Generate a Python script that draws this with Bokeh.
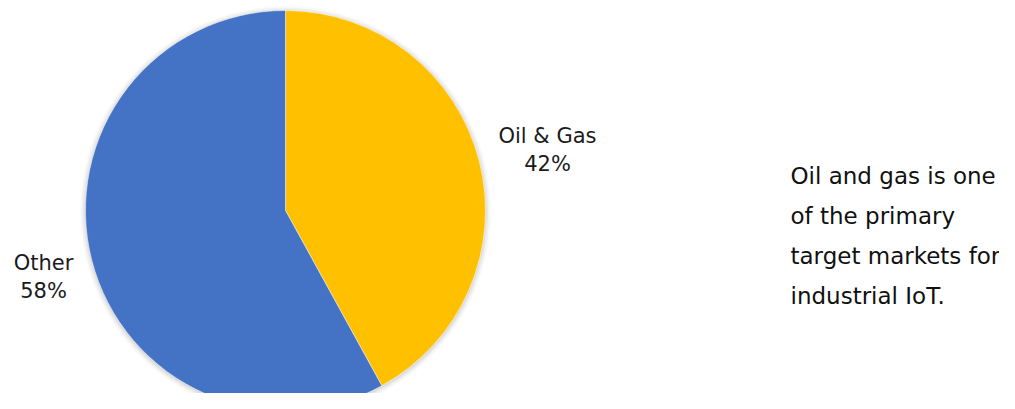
import math
from bokeh.plotting import figure
from bokeh.models import Range1d, ColumnDataSource
from bokeh.core.properties import value
from bokeh.embed import file_html
from bokeh.resources import INLINE

# ---- data ----
categories = ["Oil & Gas", "Other"]
values = [42, 58]
colors = ["#FFC000", "#4472C4"]
note_lines = ["Oil and gas is one", "of the primary", "target markets for", "industrial IoT."]

# ---- layout (screen px from top-left) ----
W, H = 999, 393
CX, CY = 285, H - 210
R = 200
FONT = "DejaVu Sans"
label_pos = [(547, 135), (43, 262)]   # label anchors (layout)
LINE = 28

p = figure(width=W, height=H, output_backend="svg", toolbar_location=None,
           x_range=Range1d(0, W), y_range=Range1d(0, H), min_border=0)
p.axis.visible = False
p.grid.visible = False
p.outline_line_color = None
p.background_fill_color = "white"

# soft shadow
for i, a in enumerate([0.05, 0.04, 0.03, 0.02]):
    p.circle(x=[CX], y=[CY - 1], radius=R + 1 + i * 1.5, fill_color="#000000",
             fill_alpha=a, line_color=None)

total = sum(values)
starts, ends, pct = [], [], []
ang = math.pi / 2
for v in values:
    sweep = 2 * math.pi * v / total
    starts.append(ang - sweep)
    ends.append(ang)
    ang -= sweep
    pct.append(f"{round(100 * v / total)}%")

src = ColumnDataSource(dict(start=starts, end=ends, color=colors))
p.wedge(x=CX, y=CY, radius=R, start_angle="start", end_angle="end",
        fill_color="color", line_color="white", line_width=0.5, source=src)

lab = ColumnDataSource(dict(
    x=[q[0] for q in label_pos] * 2,
    y=[H - q[1] for q in label_pos] + [H - q[1] - LINE for q in label_pos],
    t=list(categories) + pct))
p.text(x="x", y="y", text="t", source=lab, text_align="center",
       text_baseline="middle", text_font=value(FONT), text_font_size="21px",
       text_color="#1a1a1a")

note = ColumnDataSource(dict(x=[790] * len(note_lines),
                             y=[H - (175 + 40 * i) for i in range(len(note_lines))],
                             t=note_lines))
p.text(x="x", y="y", text="t", source=note, text_align="left",
       text_baseline="middle", text_font=value(FONT), text_font_size="23px",
       text_color="#111111")

open("out.html", "w").write(file_html(p, INLINE))
